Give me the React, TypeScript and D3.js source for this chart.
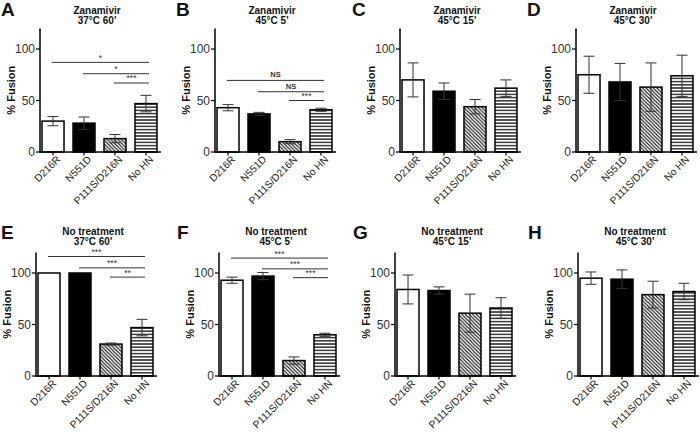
import React from "react";
import * as d3 from "d3";

const categories = ["D216R", "N551D", "P111S/D216N", "No HN"];
const panelLetters = ["A", "B", "C", "D", "E", "F", "G", "H"];
const treatments = ["Zanamivir", "Zanamivir", "Zanamivir", "Zanamivir", "No treatment", "No treatment", "No treatment", "No treatment"];
const conditions = ["37°C 60'", "45°C 5'", "45°C 15'", "45°C 30'", "37°C 60'", "45°C 5'", "45°C 15'", "45°C 30'"];

const zanamivirMeans = [
  [30, 28, 13, 47],
  [43, 37, 10, 41],
  [70, 59, 44, 62],
  [75, 68, 63, 74],
];
const zanamivirErrors = [
  [4.5, 6, 4, 8],
  [3, 1.5, 2, 1.5],
  [16.5, 8, 7, 8],
  [18, 18, 23.5, 20],
];
const noTreatmentMeans = [
  [100, 100, 31, 47],
  [93, 97, 15, 40],
  [84, 83, 61, 66],
  [95, 94, 79, 82],
];
const noTreatmentErrors = [
  [0, 0, 1, 8],
  [3, 3.5, 3.5, 1.5],
  [14, 3.5, 18.5, 10],
  [6, 9, 13, 8],
];

// significance comparisons
const sigPanel = [0, 0, 0, 1, 1, 1, 4, 4, 4, 5, 5, 5];
const sigFrom = [0, 1, 2, 0, 1, 2, 0, 1, 2, 0, 1, 2];
const sigTo = [3, 3, 3, 3, 3, 3, 3, 3, 3, 3, 3, 3];
const sigLevel = [87, 76, 67, 69.5, 58.5, 50, 116, 105, 96, 114.5, 104, 95.5];
const sigLabel = ["*", "*", "***", "NS", "NS", "***", "***", "***", "**", "***", "***", "***"];

const yTicks = [0, 50, 100];

const axisXs = [40, 215, 400, 576, 36, 219, 395, 578];
const FONT = "Arial, 'Liberation Sans', Helvetica, sans-serif";

function Panel({ idx }: { idx: number }) {
  const row = idx < 4 ? 0 : 1;
  const means = row === 0 ? zanamivirMeans[idx] : noTreatmentMeans[idx - 4];
  const errs = row === 0 ? zanamivirErrors[idx] : noTreatmentErrors[idx - 4];
  const ax = axisXs[idx];
  const zeroY = row === 0 ? 152 : 376;
  const y = d3.scaleLinear().domain([0, 120]).range([zeroY, zeroY - 123.6]);
  const x = d3
    .scaleBand<string>()
    .domain(categories)
    .range([ax, ax + 119])
    .paddingInner(0.29)
    .paddingOuter(0.065);
  const bw = x.bandwidth();
  const fills = ["#ffffff", "#000000", "url(#diag)", "url(#horiz)"];
  const sigs = d3.range(sigPanel.length).filter((i) => sigPanel[i] === idx);
  return (
    <g>
      <text x={[1, 176, 352, 527, 1, 177, 353, 528][idx]} y={row === 0 ? 16 : 239} fontFamily={FONT} fontWeight="bold" fontSize={19} fill="#111">
        {panelLetters[idx]}
      </text>
      <text x={ax + 57} y={row === 0 ? 13.5 : 234.5} textAnchor="middle" fontFamily={FONT} fontWeight="bold" fontSize={10} fill="#111">
        {treatments[idx]}
      </text>
      <text x={ax + 57} y={row === 0 ? 24 : 245} textAnchor="middle" fontFamily={FONT} fontWeight="bold" fontSize={10} fill="#111">
        {conditions[idx]}
      </text>
      {categories.map((c, i) => (
        <rect
          key={c}
          x={x(c)!}
          y={y(means[i])}
          width={bw}
          height={zeroY - y(means[i])}
          fill={fills[i]}
          stroke="#000"
          strokeWidth={1.5}
        />
      ))}
      {categories.map((c, i) => {
        if (errs[i] <= 0) return null;
        const cx = x(c)! + bw / 2;
        const y1 = y(means[i] + errs[i]);
        const y0 = y(Math.max(0, means[i] - errs[i]));
        return (
          <g key={c} stroke="#333" strokeWidth={1}>
            <line x1={cx} x2={cx} y1={y1} y2={y0} />
            <line x1={cx - 5.5} x2={cx + 5.5} y1={y1} y2={y1} />
            <line x1={cx - 5.5} x2={cx + 5.5} y1={y0} y2={y0} />
          </g>
        );
      })}
      <line x1={ax} x2={ax} y1={y(120)} y2={zeroY + 0.75} stroke="#000" strokeWidth={1.5} />
      <line x1={ax} x2={ax + 121} y1={zeroY} y2={zeroY} stroke="#000" strokeWidth={1.5} />
      {yTicks.map((t) => (
        <g key={t}>
          <line x1={ax - 4} x2={ax} y1={y(t)} y2={y(t)} stroke="#000" strokeWidth={1.2} />
          <text x={ax - 5} y={y(t) + 4} textAnchor="end" fontFamily={FONT} fontSize={12} fill="#333">
            {t}
          </text>
        </g>
      ))}
      {categories.map((c) => {
        const cx = x(c)! + bw / 2;
        return (
          <g key={c}>
            <line x1={cx} x2={cx} y1={zeroY} y2={zeroY + 3.5} stroke="#000" strokeWidth={1.2} />
            <text
              transform={`translate(${cx + 8},${zeroY + 8}) rotate(-45)`}
              textAnchor="end"
              fontFamily={FONT}
              fontSize={10.2}
              fill="#222"
            >
              {c}
            </text>
          </g>
        );
      })}
      <text
        transform={`translate(${ax - 25},${y(60)}) rotate(-90)`}
        textAnchor="middle"
        fontFamily={FONT}
        fontWeight="bold"
        fontSize={11}
        fill="#111"
      >
        % Fusion
      </text>
      {sigs.map((i) => {
        const x1 = x(categories[sigFrom[i]])! + bw / 2 - 1;
        const x2 = x(categories[sigTo[i]])! + bw / 2 + 3;
        const ly = y(sigLevel[i]);
        return (
          <g key={i}>
            <line x1={x1} x2={x2} y1={ly} y2={ly} stroke="#333" strokeWidth={1} />
            <text
              x={(x1 + x2) / 2}
              y={sigLabel[i] === "NS" ? ly - 3 : ly - 1.5}
              textAnchor="middle"
              fontFamily={FONT}
              fontSize={sigLabel[i] === "NS" ? 7.5 : 8.5}
              fontWeight={sigLabel[i] === "NS" ? "bold" : "normal"}
              fill="#333"
            >
              {sigLabel[i]}
            </text>
          </g>
        );
      })}
    </g>
  );
}

export default function App() {
  return (
    <svg width={700} height={432} viewBox="0 0 700 432" style={{ display: "block", position: "absolute", left: 0, top: 0, background: "#fff" }}>
      <defs>
        <pattern id="diag" patternUnits="userSpaceOnUse" width={3.6} height={3.6}>
          <rect width={3.6} height={3.6} fill="#fff" />
          <path d="M-0.9,-0.9 L4.5,4.5 M-0.9,2.7 L0.9,4.5 M2.7,-0.9 L4.5,0.9" stroke="#000" strokeWidth={1.1} />
        </pattern>
        <pattern id="horiz" patternUnits="userSpaceOnUse" width={4} height={3.2}>
          <rect width={4} height={3.2} fill="#fff" />
          <line x1={0} x2={4} y1={1.6} y2={1.6} stroke="#000" strokeWidth={1.2} />
        </pattern>
      </defs>
      <rect width={700} height={432} fill="#fff" />
      {panelLetters.map((_, i) => (
        <Panel key={i} idx={i} />
      ))}
    </svg>
  );
}
